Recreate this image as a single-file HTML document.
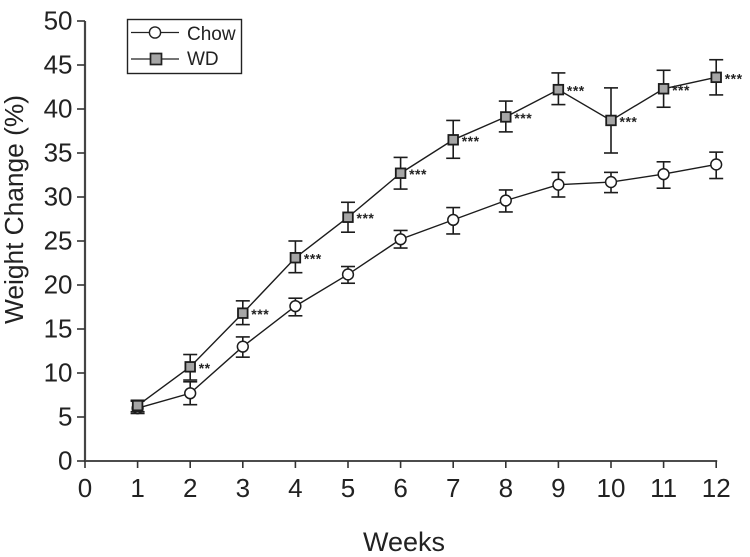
<!DOCTYPE html>
<html lang="en">
<head>
<meta charset="utf-8">
<title>Weight Change by Week</title>
<style>
html,body{margin:0;padding:0;background:#fff;width:750px;height:557px;overflow:hidden}
svg{display:block;font-family:"Liberation Sans",Arial,sans-serif;filter:blur(0.35px)}
text{fill:#222}
</style>
</head>
<body>
<svg id="chart" width="750" height="557" viewBox="0 0 750 557" xmlns="http://www.w3.org/2000/svg">
  <g id="axes"></g>
  <g id="series"></g>
  <text transform="translate(23,209.500) rotate(-90)" text-anchor="middle" font-size="26.300">Weight Change (%)</text>
  <text x="404" y="551" text-anchor="middle" font-size="27">Weeks</text>
  <g>
    <rect x="127.500" y="19.500" width="114" height="54" fill="#fff" stroke="#222" stroke-width="1.400"/>
    <line x1="131" x2="179" y1="32.500" y2="32.500" stroke="#222" stroke-width="1.300"/>
    <circle cx="155" cy="32.500" r="5.600" fill="#fff" stroke="#222" stroke-width="1.400"/>
    <text x="187" y="40" font-size="19">Chow</text>
    <line x1="131" x2="179" y1="59" y2="59" stroke="#222" stroke-width="1.300"/>
    <rect x="150.500" y="53.500" width="11" height="11" fill="#a6a6a6" stroke="#222" stroke-width="1.700"/>
    <text x="187" y="65" font-size="19">WD</text>
  </g>
</svg>
<script>
const weeks = [1, 2, 3, 4, 5, 6, 7, 8, 9, 10, 11, 12];
const xTicks = [0, 1, 2, 3, 4, 5, 6, 7, 8, 9, 10, 11, 12];
const yTicks = [0, 5, 10, 15, 20, 25, 30, 35, 40, 45, 50];
const chowMean = [6.0, 7.7, 13.0, 17.6, 21.2, 25.2, 27.4, 29.6, 31.4, 31.7, 32.6, 33.7];
const chowLow = [5.4, 6.4, 11.8, 16.5, 20.2, 24.2, 25.8, 28.3, 30.0, 30.5, 31.0, 32.1];
const chowHigh = [6.8, 9.0, 14.1, 18.5, 22.1, 26.2, 28.8, 30.8, 32.8, 32.8, 34.0, 35.1];
const wdMean = [6.3, 10.7, 16.8, 23.1, 27.7, 32.7, 36.5, 39.1, 42.2, 38.7, 42.3, 43.6];
const wdLow = [5.6, 9.2, 15.5, 21.4, 26.0, 30.9, 34.4, 37.4, 40.5, 35.0, 40.2, 41.6];
const wdHigh = [6.9, 12.1, 18.2, 25.0, 29.4, 34.5, 38.7, 40.9, 44.1, 42.4, 44.4, 45.6];
const significance = ["", "**", "***", "***", "***", "***", "***", "***", "***", "***", "***", "***"];

const NS = "http://www.w3.org/2000/svg";
const INK = "#1c1c1c";
const xScale = v => 85 + v * 52.6;
const yScale = v => 461 - v * 8.8;
const axesGroup = document.getElementById("axes");
const seriesGroup = document.getElementById("series");

function make(tag, attrs, parent) {
  const el = document.createElementNS(NS, tag);
  for (const k in attrs) el.setAttribute(k, attrs[k]);
  parent.appendChild(el);
  return el;
}

const xAxisLine = make("line", {x1: xScale(0), x2: xScale(12) + 1, y1: yScale(0), y2: yScale(0), stroke: "#333", "stroke-width": 1.8}, axesGroup);


const yAxisLine = make("line", {x1: xScale(0), x2: xScale(0), y1: yScale(0) + 1, y2: yScale(50), stroke: "#444", "stroke-width": 2.2}, axesGroup);



xTicks.forEach(t => {
  const tick = make("line", {x1: xScale(t), x2: xScale(t), y1: yScale(0), y2: yScale(0) + 7, stroke: "#333", "stroke-width": 1.6}, axesGroup);
  
  
  const label = make("text", {x: xScale(t), y: 497, "text-anchor": "middle", "font-size": 26}, axesGroup);
  label.textContent = t;
  
  
});

yTicks.forEach(t => {
  const tick = make("line", {x1: xScale(0) - 8, x2: xScale(0), y1: yScale(t), y2: yScale(t), stroke: "#333", "stroke-width": 1.6}, axesGroup);
  
  
  const label = make("text", {x: 72.5, y: yScale(t) + 8.500, "text-anchor": "end", "font-size": 26}, axesGroup);
  label.textContent = t;
  
  
});

function drawErrorBars(mean, low, high, name) {
  mean.forEach((m, i) => {
    const x = xScale(weeks[i]);
    const stem = make("line", {x1: x, x2: x, y1: yScale(low[i]), y2: yScale(high[i]), stroke: INK, "stroke-width": 1.6}, seriesGroup);
    
    
    [low[i], high[i]].forEach(v => {
      const cap = make("line", {x1: x - 7, x2: x + 7, y1: yScale(v), y2: yScale(v), stroke: INK, "stroke-width": 1.6}, seriesGroup);
      
      
    });
  });
}

function drawLine(mean, name) {
  const pts = mean.map((m, i) => xScale(weeks[i]) + "," + yScale(m)).join(" ");
  const line = make("polyline", {points: pts, fill: "none", stroke: INK, "stroke-width": 1.4}, seriesGroup);
  
  
}

drawErrorBars(chowMean, chowLow, chowHigh, "chow");
drawLine(chowMean, "chow");
chowMean.forEach((m, i) => {
  const dot = make("circle", {cx: xScale(weeks[i]), cy: yScale(m), r: 5.4, fill: "#fff", stroke: INK, "stroke-width": 1.5}, seriesGroup);
  
  
});

drawErrorBars(wdMean, wdLow, wdHigh, "wd");
drawLine(wdMean, "wd");
wdMean.forEach((m, i) => {
  const box = make("rect", {x: xScale(weeks[i]) - 4.800, y: yScale(m) - 4.800, width: 9.6, height: 9.6, fill: "#a6a6a6", stroke: INK, "stroke-width": 1.8}, seriesGroup);
  
  
  if (significance[i]) {
    const star = make("text", {x: xScale(weeks[i]) + 8.5, y: yScale(m) + 6, "font-size": 14, "font-weight": "bold", "letter-spacing": 0.5}, seriesGroup);
    star.textContent = significance[i];
    
    
  }
});
</script>
</body>
</html>
